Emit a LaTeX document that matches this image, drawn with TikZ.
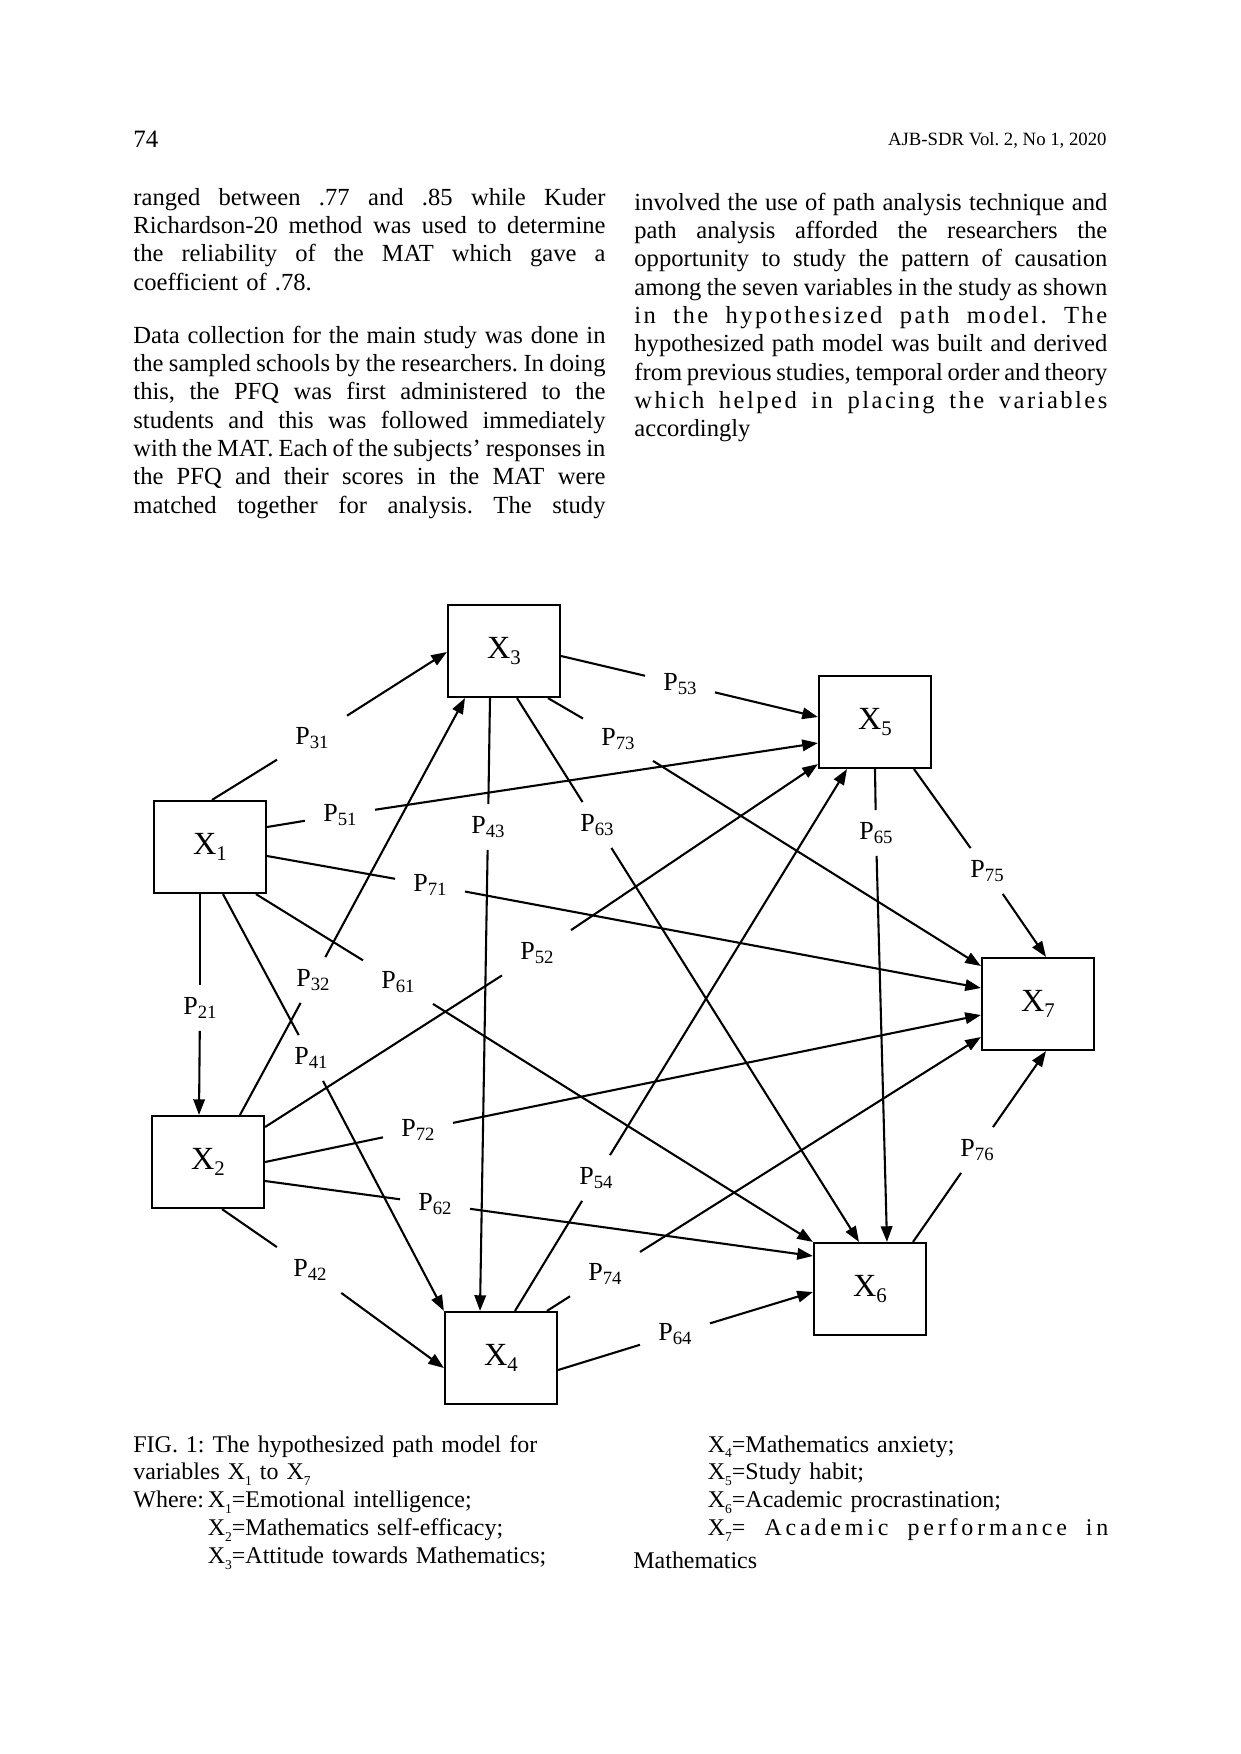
\documentclass[tikz,border=0pt]{standalone}
\usepackage{fontspec}
\setmainfont{Liberation Serif}
\usetikzlibrary{arrows.meta,calc}
\newcommand\jline[1]{{\spaceskip=0.25em plus 3em minus 0.15em\xspaceskip=\spaceskip\makebox[\linewidth][s]{#1}}\par}
\newcommand\bxl[1]{X\raisebox{-0.45ex}{\fontsize{10}{10}\selectfont #1}}
\newcommand\pll[1]{P\raisebox{-0.3ex}{\fontsize{9}{9}\selectfont #1}}
\newcommand\csub[1]{\raisebox{-0.5ex}{\fontsize{6.5}{6.5}\selectfont #1}}
\frenchspacing
\begin{document}
\begin{tikzpicture}[x=0.48pt,y=-0.48pt,
  var/.style={draw,line width=1.05pt,minimum width=53.76pt,minimum height=44.16pt,inner sep=0pt,font=\fontsize{15.5}{15.5}\selectfont},
  plab/.style={minimum width=33.6pt,minimum height=22pt,inner sep=0pt,outer sep=0pt,font=\fontsize{12.5}{12.5}\selectfont},
  edge/.style={line width=1pt},
  arr/.style={edge,-{Triangle[length=7.5pt,width=5.5pt]}},
  body/.style={anchor=base west,text width=226.6pt,inner sep=0pt,font=\fontsize{11.8}{13.6}\selectfont},
  capt/.style={anchor=base west,inner sep=0pt,font=\fontsize{11.5}{13.4}\selectfont}]
\fill[white] (0,0) rectangle (1241,1754);
\path[use as bounding box] (0,0) rectangle (1241,1754);

% header
\node[anchor=base west,inner sep=0pt,font=\fontsize{12}{12}\selectfont] (pg) at (133,147) {74};
\node[anchor=base east,inner sep=0pt,font=\fontsize{9}{9}\selectfont] (hd) at (1107,145) {AJB-SDR Vol. 2, No 1, 2020};

% body text
\node[body] (t1) at (133,205) {\jline{ranged between .77 and .85 while Kuder}\jline{Richardson-20 method was used to determine}\jline{the reliability of the MAT which gave a}coefficient of .78.\par};
\node[body] (t2) at (133,343) {\jline{Data collection for the main study was done in}\jline{the sampled schools by the researchers. In doing}\jline{this, the PFQ was first administered to the}\jline{students and this was followed immediately}\jline{with the MAT. Each of the subjects' responses in}\jline{the PFQ and their scores in the MAT were}\jline{matched together for analysis. The study}};
\node[body,text width=227pt] (t3) at (634,210) {\jline{involved the use of path analysis technique and}\jline{path analysis afforded the researchers the}\jline{opportunity to study the pattern of causation}\jline{among the seven variables in the study as shown}\jline{\addfontfeature{LetterSpace=10}in the hypothesized path model. The}\jline{hypothesized path model was built and derived}\jline{from previous studies, temporal order and theory}\jline{\addfontfeature{LetterSpace=10}which helped in placing the variables}accordingly\par};

% variable boxes
\node[var] (X1) at (210,847) {\bxl{1}};
\node[var] (X2) at (208,1162) {\bxl{2}};
\node[var] (X3) at (504,651) {\bxl{3}};
\node[var] (X4) at (501,1358) {\bxl{4}};
\node[var] (X5) at (875,722) {\bxl{5}};
\node[var] (X6) at (870,1289) {\bxl{6}};
\node[var] (X7) at (1038,1004) {\bxl{7}};

% path labels
\node[plab] (p31) at (312,738) {\pll{31}};
\node[plab] (p51) at (340,815) {\pll{51}};
\node[plab] (p71) at (430,885) {\pll{71}};
\node[plab] (p21) at (200,1008) {\pll{21}};
\node[plab] (p41) at (311,1058) {\pll{41}};
\node[plab] (p61) at (398,982) {\pll{61}};
\node[plab] (p32) at (313,980) {\pll{32}};
\node[plab] (p52) at (537,953) {\pll{52}};
\node[plab] (p72) at (418,1130) {\pll{72}};
\node[plab] (p62) at (435,1204) {\pll{62}};
\node[plab] (p42) at (310,1270) {\pll{42}};
\node[plab] (p43) at (488,827) {\pll{43}};
\node[plab] (p63) at (597,825) {\pll{63}};
\node[plab] (p73) at (618,739) {\pll{73}};
\node[plab] (p53) at (680,684) {\pll{53}};
\node[plab] (p65) at (876,833) {\pll{65}};
\node[plab] (p75) at (987,871) {\pll{75}};
\node[plab] (p54) at (596,1178) {\pll{54}};
\node[plab] (p74) at (605,1274) {\pll{74}};
\node[plab] (p64) at (675,1334) {\pll{64}};
\node[plab] (p76) at (977,1150) {\pll{76}};

% connectors
\draw[edge] ($(X1.north)+(2,0)$) -- (p31);  \draw[arr] (p31) -- ($(X3.west)+(0,1)$);
\draw[edge] ($(X1.east)+(0,-20)$) -- (p51); \draw[arr] (p51) -- ($(X5.west)+(0,21)$);
\draw[edge] ($(X1.east)+(0,9)$) -- (p71);   \draw[arr] (p71) -- ($(X7.west)+(0,-16)$);
\draw[edge] ($(X1.south)+(-10,0)$) -- (p21); \draw[arr] (p21) -- ($(X2.north)+(-9,0)$);
\draw[edge] ($(X1.south)+(13,0)$) -- (p41); \draw[arr] (p41) -- (X4.north west);
\draw[edge] ($(X1.south)+(46,0)$) -- (p61); \draw[arr] (p61) -- (X6.north west);
\draw[edge] ($(X2.north)+(32,0)$) -- (p32); \draw[arr] (p32) -- ($(X3.south)+(-39,0)$);
\draw[edge] ($(X2.east)+(0,-35)$) -- (p52); \draw[arr] (p52) -- ($(X5.south west)+(0,-5)$);
\draw[edge] (X2.east) -- (p72);             \draw[arr] (p72) -- ($(X7.west)+(0,11)$);
\draw[edge] ($(X2.east)+(0,19)$) -- (p62);  \draw[arr] (p62) -- ($(X6.west)+(0,-33)$);
\draw[edge] ($(X2.south)+(14,0)$) -- (p42); \draw[arr] (p42) -- ($(X4.west)+(0,10)$);
\draw[edge] ($(X3.south)+(-14,0)$) -- (p43); \draw[arr] (p43) -- ($(X4.north)+(-21,0)$);
\draw[edge] ($(X3.south)+(13,0)$) -- (p63); \draw[arr] (p63) -- ($(X6.north)+(-11,0)$);
\draw[edge] ($(X3.south)+(44,0)$) -- (p73); \draw[arr] (p73) -- ($(X7.west)+(0,-38)$);
\draw[edge] ($(X3.east)+(0,5)$) -- (p53);   \draw[arr] (p53) -- ($(X5.west)+(0,-5)$);
\draw[edge] (X5.south) -- (p65);            \draw[arr] (p65) -- ($(X6.north)+(17,0)$);
\draw[edge] ($(X5.south)+(39,0)$) -- (p75); \draw[arr] (p75) -- ($(X7.north)+(8,0)$);
\draw[edge] ($(X4.north)+(14,0)$) -- (p54); \draw[arr] (p54) -- ($(X5.south)+(-28,0)$);
\draw[edge] ($(X4.north)+(46,0)$) -- (p74); \draw[arr] (p74) -- ($(X7.west)+(0,33)$);
\draw[edge] ($(X4.east)+(0,12)$) -- (p64);  \draw[arr] (p64) -- ($(X6.west)+(0,3)$);
\draw[edge] ($(X6.north)+(43,0)$) -- (p76); \draw[arr] (p76) -- ($(X7.south)+(8,0)$);

% caption
\node[capt,text width=240pt] (c1) at (133,1452) {FIG. 1: The hypothesized path model for\par variables X\csub{1} to X\csub{7}\par Where:\,X\csub{1}=Emotional intelligence;\par \hphantom{Where:\,}X\csub{2}=Mathematics self-efficacy;\par \hphantom{Where:\,}X\csub{3}=Attitude towards Mathematics;\par};
\node[capt,text width=228pt] (c2) at (633,1452) {\hphantom{Where:\,}X\csub{4}=Mathematics anxiety;\par \hphantom{Where:\,}X\csub{5}=Study habit;\par \hphantom{Where:\,}X\csub{6}=Academic procrastination;\par \jline{\hphantom{Where:\,}X\csub{7}= \addfontfeature{LetterSpace=16}Academic performance in}\vspace{2.5pt}Mathematics\par};
\end{tikzpicture}
\end{document}
